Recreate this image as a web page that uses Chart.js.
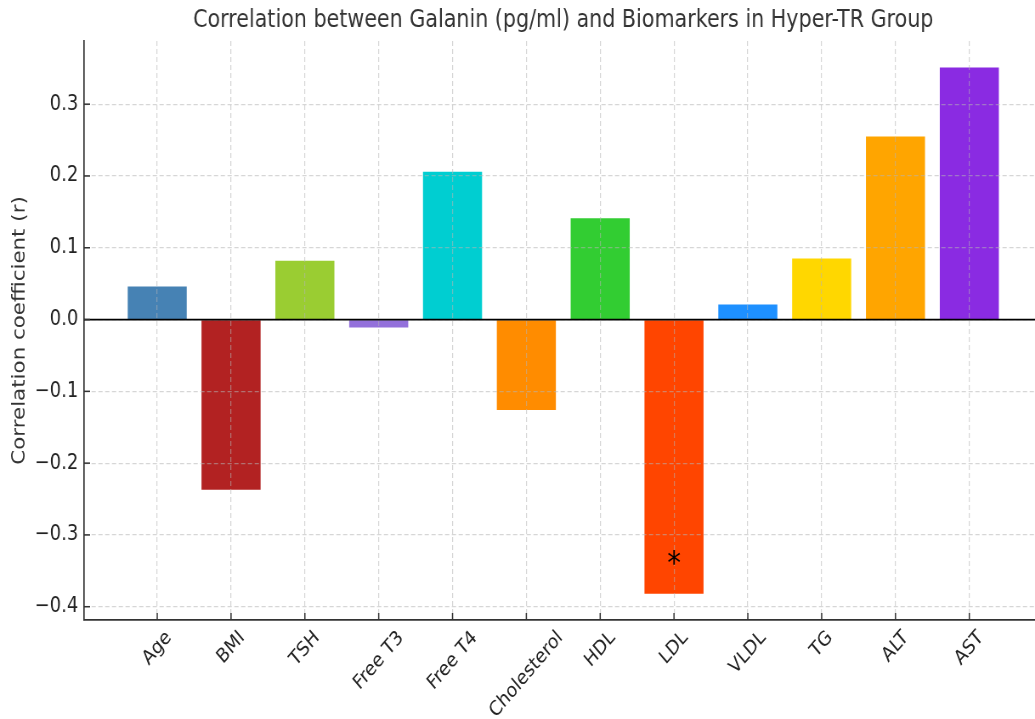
<!DOCTYPE html>
<html>
<head>
<meta charset="utf-8">
<script src="https://cdn.jsdelivr.net/npm/chart.js@4.4.0/dist/chart.umd.min.js"></script>
<style>
  html, body { margin: 0; padding: 0; background: #fff; overflow: hidden; }
  #chart { display: block; }
</style>
</head>
<body>
<!-- the reference is squeezed sideways (about 0.85), so draw wide and let CSS squeeze it -->
<canvas id="chart" width="1218" height="719" style="width:1035px;height:719px"></canvas>
<script>
// data
const biomarkers = ["Age", "BMI", "TSH", "Free T3", "Free T4", "Cholesterol", "HDL", "LDL", "VLDL", "TG", "ALT", "AST"];
const correlations = [0.046, -0.237, 0.082, -0.011, 0.206, -0.126, 0.141, -0.382, 0.021, 0.085, 0.255, 0.351];
const barColors = ["#4682B4", "#B22222", "#9ACD32", "#9370DB", "#00CED1", "#FF8C00", "#32CD32", "#FF4500", "#1E90FF", "#FFD700", "#FFA500", "#8A2BE2"];
const yTicks = [-0.4, -0.3, -0.2, -0.1, 0.0, 0.1, 0.2, 0.3];
const significant = ["LDL"];      // bars marked with *
const starAt = -0.331;            // where the * sits (r units)

const chartTitle = "Correlation between Galanin (pg/ml) and Biomarkers in Hyper-TR Group";
const yTitle = "Correlation coefficient (r)";
const FONT = "'DejaVu Sans', sans-serif";
const GRID = "rgba(180,180,180,0.55)";

function fmt(v) {
    let s = Math.abs(v) < 1e-9 ? "0.0" : v.toFixed(1);
    return s.replace("-", "\u2212");
}

// title, rotated x labels, inward ticks, zero line and the star
const extras = {
    id: "extras",
    afterDraw(chart) {
        const ctx = chart.ctx;
        const xs = chart.scales.x, ys = chart.scales.y;
        const area = chart.chartArea;
        ctx.save();

        // zero line
        ctx.strokeStyle = "#000";
        ctx.lineWidth = 1.7;
        ctx.beginPath();
        ctx.moveTo(area.left, ys.getPixelForValue(0));
        ctx.lineTo(area.right, ys.getPixelForValue(0));
        ctx.stroke();

        // inward tick marks
        ctx.strokeStyle = "#333";
        ctx.lineWidth = 1.5;
        biomarkers.forEach((_, i) => {
            const x = xs.getPixelForValue(i);
            ctx.beginPath();
            ctx.moveTo(x, area.bottom);
            ctx.lineTo(x, area.bottom - 7);
            ctx.stroke();
        });
        yTicks.forEach(v => {
            const y = ys.getPixelForValue(v);
            ctx.beginPath();
            ctx.moveTo(area.left, y);
            ctx.lineTo(area.left + 7, y);
            ctx.stroke();
        });

        // title, centred on the full axes
        ctx.fillStyle = "#333";
        ctx.font = "24.3px " + FONT;
        ctx.textAlign = "center";
        ctx.textBaseline = "middle";
        ctx.fillText(chartTitle, xs.getPixelForValue(5.5), 21);

        // x tick labels, rotated 45deg and centred on the tick
        ctx.fillStyle = "#222";
        ctx.font = "20px " + FONT;
        biomarkers.forEach((name, i) => {
            const w = ctx.measureText(name).width;
            const h = 19;
            const half = (w + h) / (2 * Math.SQRT2);
            const cx = xs.getPixelForValue(i);
            const cy = area.bottom + 8 + half;
            ctx.save();
            ctx.translate(cx, cy);
            ctx.rotate(-Math.PI / 4);
            ctx.textAlign = "center";
            ctx.textBaseline = "middle";
            ctx.fillText(name, 0, 0);
            ctx.restore();
        });

        // significance star
        ctx.fillStyle = "#000";
        ctx.font = "32px " + FONT;
        ctx.textAlign = "center";
        ctx.textBaseline = "alphabetic";
        significant.forEach(name => {
            const i = biomarkers.indexOf(name);
            const m = ctx.measureText("*");
            const cy = ys.getPixelForValue(starAt) + (m.actualBoundingBoxAscent - m.actualBoundingBoxDescent) / 2;
            ctx.fillText("*", xs.getPixelForValue(i), cy);
        });

        ctx.restore();
    }
};

const ctx = document.getElementById("chart").getContext("2d");
const chart = new Chart(ctx, {
    type: "bar",
    data: {
        datasets: [{
            data: correlations.map((v, i) => ({ x: i, y: v })),
            backgroundColor: barColors,
            borderWidth: 0,
            categoryPercentage: 1.0,
            barPercentage: 0.8
        }]
    },
    options: {
        responsive: false,
        animation: false,
        devicePixelRatio: 1,
        layout: { padding: { top: 41, right: 0, left: 0, bottom: 0 } },
        plugins: {
            legend: { display: false },
            tooltip: { enabled: false },
            title: { display: false }
        },
        scales: {
            x: {
                type: "linear",
                offset: false,
                min: -0.99,
                max: 11.89,
                afterBuildTicks: axis => { axis.ticks = biomarkers.map((_, i) => ({ value: i })); },
                afterFit: axis => { axis.height = 99; },
                ticks: { display: false },
                grid: { color: GRID, lineWidth: 1.2, drawTicks: false, offset: false, z: 1 },
                border: { display: true, color: "#333", width: 1.7, dash: [5, 3], z: 2 }
            },
            y: {
                type: "linear",
                min: -0.4185,
                max: 0.388,
                afterBuildTicks: axis => { axis.ticks = yTicks.map(v => ({ value: v })); },
                afterFit: axis => { axis.width = 99; },
                ticks: {
                    color: "#222",
                    font: { family: FONT, size: 21 },
                    padding: 7,
                    callback: v => fmt(v)
                },
                grid: { color: GRID, lineWidth: 1.2, drawTicks: false, z: 1 },
                border: { display: true, color: "#333", width: 1.7, dash: [5, 3], z: 2 },
                title: {
                    display: true,
                    text: yTitle,
                    color: "#333",
                    font: { family: FONT, size: 21.4 },
                    padding: { top: 11, bottom: 0 }
                }
            }
        }
    },
    plugins: [extras]
});
</script>
</body>
</html>
